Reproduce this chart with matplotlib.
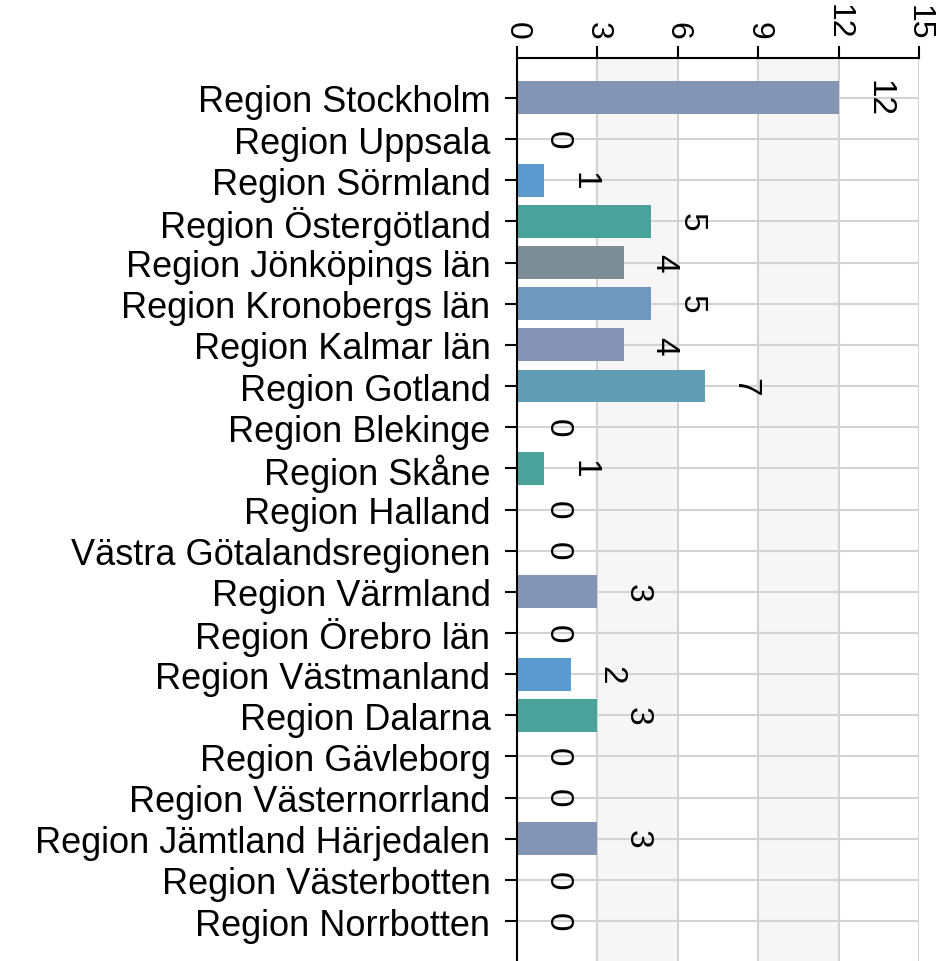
import matplotlib
matplotlib.use("Agg")
import matplotlib.pyplot as plt

categories = ["Region Stockholm", "Region Uppsala", "Region Sörmland", "Region Östergötland",
              "Region Jönköpings län", "Region Kronobergs län", "Region Kalmar län", "Region Gotland",
              "Region Blekinge", "Region Skåne", "Region Halland", "Västra Götalandsregionen",
              "Region Värmland", "Region Örebro län", "Region Västmanland", "Region Dalarna",
              "Region Gävleborg", "Region Västernorrland", "Region Jämtland Härjedalen",
              "Region Västerbotten", "Region Norrbotten"]
values = [12, 0, 1, 5, 4, 5, 4, 7, 0, 1, 0, 0, 3, 0, 2, 3, 0, 0, 3, 0, 0]
colors = ["#8494b4", "#8494b4", "#5b9bd0", "#4aa39a", "#7b8d95", "#7097bd", "#8592b5", "#619db3",
          "#8494b4", "#4aa39a", "#8494b4", "#8494b4", "#8494b4", "#8494b4", "#5b9bd0", "#4aa39a",
          "#8494b4", "#8494b4", "#8494b4", "#8494b4", "#8494b4"]
xticks = [0, 3, 6, 9, 12, 15]

plt.rcParams['font.family'] = ['Liberation Sans', 'DejaVu Sans']
fig = plt.figure(figsize=(9.43, 9.62), dpi=100)
ax = fig.add_axes([517/943, 0, 402/943, 1 - 59/962])

n = len(categories)
ypos = list(range(n))
ax.set_xlim(0, 15)
ax.set_ylim(n - 0.03, -0.97)

# alternating bands
for a, b in [(3, 6), (9, 12)]:
    ax.axvspan(a, b, color="#f6f6f6", zorder=0, lw=0)
for x in xticks:
    ax.axvline(x, color="#d3d3d3", lw=1.5, zorder=1)
for y in ypos:
    ax.axhline(y, color="#d3d3d3", lw=1.5, zorder=1)

ax.barh(ypos, values, height=0.8, color=colors, zorder=2)

for y, v in zip(ypos, values):
    ax.annotate(str(v), xy=(v, y), xytext=(40, 0), textcoords="offset pixels",
                rotation=-90, ha="center", va="center", fontsize=24, color="black", zorder=3)

ax.set_yticks(ypos)
ax.set_yticklabels(categories, fontsize=26)
ax.xaxis.tick_top()
ax.set_xticks(xticks)
ax.set_xticklabels([str(t) for t in xticks], rotation=-90, fontsize=23)
ax.tick_params(axis="x", length=8.6, width=1.5, pad=5)
ax.tick_params(axis="y", length=8.6, width=1.5, pad=10.5)
for s in ["right", "bottom"]:
    ax.spines[s].set_visible(False)
for s in ["left", "top"]:
    ax.spines[s].set_linewidth(1.5)
    ax.spines[s].set_zorder(4)

fig.savefig("out.png", dpi=100)
